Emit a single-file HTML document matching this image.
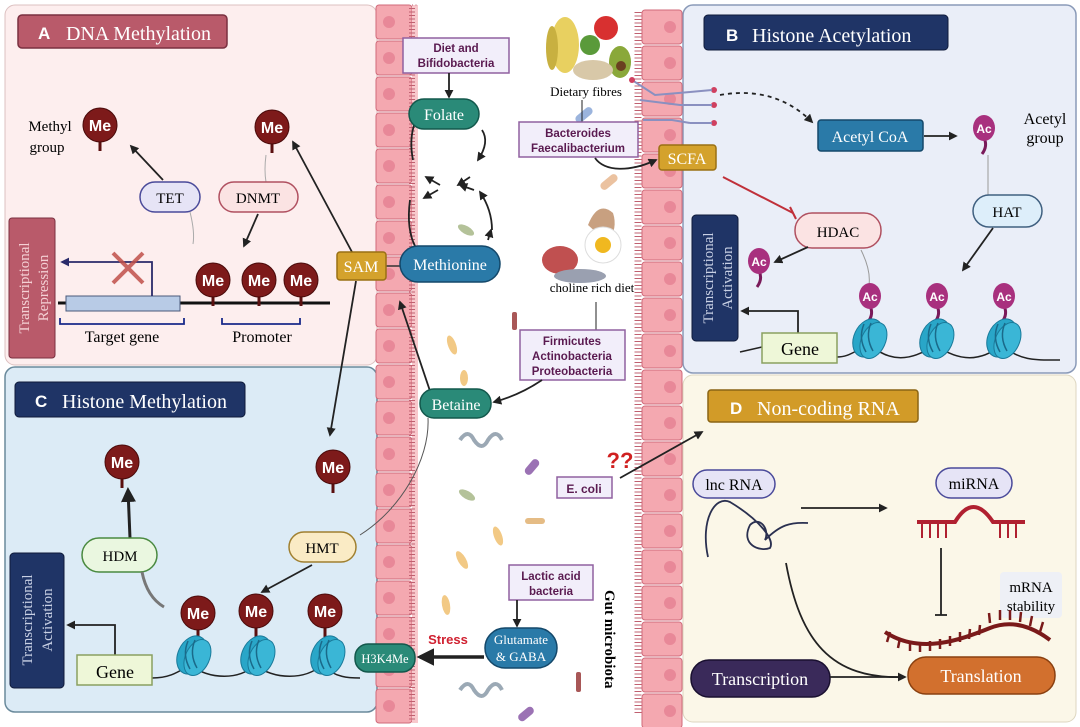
<!DOCTYPE html>
<html><head><meta charset="utf-8"><style>
html,body{margin:0;padding:0;background:#fff;}
svg{display:block;}
.se{font-family:"Liberation Serif",serif;}
.sa{font-family:"Liberation Sans",sans-serif;}
</style></head><body>
<svg width="1080" height="727" viewBox="0 0 1080 727" xmlns="http://www.w3.org/2000/svg">
<defs>
<marker id="ah" viewBox="0 0 10 10" refX="8" refY="5" markerWidth="5" markerHeight="5" orient="auto-start-reverse"><path d="M0,0 L10,5 L0,10 z" fill="#222"/></marker>
<marker id="ahn" viewBox="0 0 10 10" refX="8" refY="5" markerWidth="5" markerHeight="5" orient="auto"><path d="M0,0 L10,5 L0,10 z" fill="#2a2a6a"/></marker>
<g id="me"><line x1="0" y1="10" x2="0" y2="26" stroke="#5a0f0f" stroke-width="3"/><circle r="17" fill="#7d1a1a" stroke="#4a0a0a"/><text y="6" text-anchor="middle" class="sa" font-size="16" font-weight="bold" fill="#fff">Me</text></g>
<g id="ac"><path d="M0,10 q4,8 -2,16" stroke="#7a1a5a" stroke-width="3" fill="none"/><ellipse rx="11" ry="13" fill="#a8307e"/><text y="5" text-anchor="middle" class="sa" font-size="12" font-weight="bold" fill="#fff">Ac</text></g>
<g id="nuc"><ellipse rx="14" ry="20" transform="rotate(25)" fill="#29a6c8" stroke="#1a7a9a"/><ellipse cx="6" rx="12" ry="19" transform="rotate(25)" fill="#3ab6d6" stroke="#1a7a9a"/><path d="M-4,-14 q-6,14 2,28 M3,-15 q-6,14 2,28" stroke="#1a6a8a" fill="none" stroke-width="1.5"/></g>
<g id="cellL"><rect x="0" y="0" width="36" height="34" rx="3" fill="#f4a8b0" stroke="#d06a7a"/><circle cx="13" cy="17" r="6" fill="#e88898"/></g>
<g id="cellR"><rect x="0" y="0" width="40" height="34" rx="3" fill="#f4a8b0" stroke="#d06a7a"/><circle cx="28" cy="17" r="6" fill="#e88898"/></g>
</defs>

<!-- Panels -->
<rect x="5" y="5" width="372" height="360" rx="10" fill="#fdeeee" stroke="#dcc0c0"/>
<rect x="5" y="367" width="372" height="345" rx="10" fill="#dcebf6" stroke="#6a8a9c" stroke-width="1.5"/>
<rect x="683" y="5" width="393" height="368" rx="10" fill="#eaeef8" stroke="#8a9ab8" stroke-width="1.5"/>
<rect x="683" y="375" width="393" height="347" rx="10" fill="#fbf7e8" stroke="#ddd6c0"/>

<!-- epithelium left -->
<g>
<use href="#cellL" x="376" y="5"/><use href="#cellL" x="376" y="41"/><use href="#cellL" x="376" y="77"/><use href="#cellL" x="376" y="113"/><use href="#cellL" x="376" y="149"/><use href="#cellL" x="376" y="185"/><use href="#cellL" x="376" y="221"/><use href="#cellL" x="376" y="257"/><use href="#cellL" x="376" y="293"/><use href="#cellL" x="376" y="329"/><use href="#cellL" x="376" y="365"/><use href="#cellL" x="376" y="401"/><use href="#cellL" x="376" y="437"/><use href="#cellL" x="376" y="473"/><use href="#cellL" x="376" y="509"/><use href="#cellL" x="376" y="545"/><use href="#cellL" x="376" y="581"/><use href="#cellL" x="376" y="617"/><use href="#cellL" x="376" y="653"/><use href="#cellL" x="376" y="689"/>
<rect x="412" y="5" width="6" height="718" fill="#f8c8cc"/>
<line x1="412" y1="5" x2="418" y2="5" stroke="#c06070" stroke-dasharray="1 2.5"/>
<path d="M412,8 V720" stroke="#c06070" stroke-width="6" stroke-dasharray="1 2.5" fill="none"/>
</g>
<!-- epithelium right -->
<g>
<use href="#cellR" x="642" y="10"/><use href="#cellR" x="642" y="46"/><use href="#cellR" x="642" y="82"/><use href="#cellR" x="642" y="118"/><use href="#cellR" x="642" y="154"/><use href="#cellR" x="642" y="190"/><use href="#cellR" x="642" y="226"/><use href="#cellR" x="642" y="262"/><use href="#cellR" x="642" y="298"/><use href="#cellR" x="642" y="334"/><use href="#cellR" x="642" y="370"/><use href="#cellR" x="642" y="406"/><use href="#cellR" x="642" y="442"/><use href="#cellR" x="642" y="478"/><use href="#cellR" x="642" y="514"/><use href="#cellR" x="642" y="550"/><use href="#cellR" x="642" y="586"/><use href="#cellR" x="642" y="622"/><use href="#cellR" x="642" y="658"/><use href="#cellR" x="642" y="694" height="20"/>
<path d="M638,12 V714" stroke="#c06070" stroke-width="7" stroke-dasharray="1 2.5" fill="none"/>
</g>

<!-- ===== Panel A ===== -->
<rect x="18" y="15" width="209" height="33" rx="4" fill="#b95a6a" stroke="#7a3040" stroke-width="1.5"/>
<text x="38" y="39" class="sa" font-size="17" font-weight="bold" fill="#fff">A</text>
<text x="66" y="40" class="se" font-size="20" fill="#fff">DNA Methylation</text>
<text x="50" y="131" class="se" font-size="15" text-anchor="middle">Methyl</text>
<text x="47" y="152" class="se" font-size="15" text-anchor="middle">group</text>
<use href="#me" x="100" y="125"/>
<use href="#me" x="272" y="127"/>
<line x1="163" y1="180" x2="131" y2="146" stroke="#222" stroke-width="1.8" marker-end="url(#ah)"/>
<path d="M190,212 q5,20 3,32" stroke="#aaa" fill="none"/>
<path d="M266,155 q-2,15 0,27" stroke="#aaa" fill="none"/>
<rect x="140" y="182" width="60" height="30" rx="15" fill="#e6e4f6" stroke="#4a4a9a" stroke-width="1.5"/>
<text x="170" y="203" class="se" font-size="15" text-anchor="middle">TET</text>
<rect x="219" y="182" width="79" height="30" rx="15" fill="#fbe3e3" stroke="#b05060" stroke-width="1.5"/>
<text x="258" y="203" class="se" font-size="15" text-anchor="middle">DNMT</text>
<line x1="258" y1="214" x2="244" y2="246" stroke="#222" stroke-width="1.8" marker-end="url(#ah)"/>
<rect x="9" y="218" width="46" height="140" rx="3" fill="#b95a6a" stroke="#7a3040"/>
<text transform="translate(29,288) rotate(-90)" class="se" font-size="15" text-anchor="middle" fill="#f4d0d4">Transcriptional</text>
<text transform="translate(48,288) rotate(-90)" class="se" font-size="15" text-anchor="middle" fill="#f4d0d4">Repression</text>
<line x1="58" y1="303" x2="330" y2="303" stroke="#111" stroke-width="3"/>
<rect x="66" y="296" width="114" height="15" fill="#b8cbe6" stroke="#4a5a7a"/>
<path d="M152,296 V262 H62" stroke="#2a2a6a" stroke-width="1.8" fill="none" marker-end="url(#ahn)"/>
<path d="M113,253 L143,283 M143,253 L113,283" stroke="#c0504a" stroke-width="4" opacity="0.85"/>
<use href="#me" x="213" y="280"/><use href="#me" x="259" y="280"/><use href="#me" x="301" y="280"/>
<path d="M60,318 V324 H184 V318" stroke="#1a2a8a" stroke-width="1.8" fill="none"/>
<path d="M222,318 V324 H300 V318" stroke="#1a2a8a" stroke-width="1.8" fill="none"/>
<text x="122" y="342" class="se" font-size="16" text-anchor="middle">Target gene</text>
<text x="262" y="342" class="se" font-size="16" text-anchor="middle">Promoter</text>

<!-- SAM -->
<line x1="352" y1="252" x2="293" y2="142" stroke="#222" stroke-width="1.8" marker-end="url(#ah)"/>
<line x1="356" y1="281" x2="330" y2="435" stroke="#222" stroke-width="1.8" marker-end="url(#ah)"/>
<line x1="386" y1="266" x2="400" y2="266" stroke="#333" stroke-width="1.5"/>
<rect x="337" y="252" width="49" height="28" rx="3" fill="#d4a22c" stroke="#9a7014" stroke-width="1.5"/>
<text x="361" y="272" class="se" font-size="16" text-anchor="middle" fill="#fff">SAM</text>

<!-- ===== middle ===== -->
<rect x="403" y="38" width="106" height="35" fill="#f2eefa" stroke="#9060a0" stroke-width="1.5"/>
<text x="456" y="52" class="sa" font-size="11.5" font-weight="bold" text-anchor="middle" fill="#5a1a50">Diet  and</text>
<text x="456" y="67" class="sa" font-size="11.5" font-weight="bold" text-anchor="middle" fill="#5a1a50">Bifidobacteria</text>
<line x1="449" y1="73" x2="449" y2="97" stroke="#222" stroke-width="1.8" marker-end="url(#ah)"/>
<!-- cycle arrows -->
<g stroke="#222" stroke-width="1.8" fill="none">
<path d="M418,115 q-10,20 -5,45" marker-start="url(#ah)"/>
<path d="M482,130 q8,12 -4,30" marker-end="url(#ah)"/>
<path d="M410,200 q-4,30 6,48"/>
<path d="M492,230 q0,-20 -12,-38" marker-end="url(#ah)"/>
<path d="M440,185 l-14,-8" marker-end="url(#ah)"/>
<path d="M458,185 l12,-8" marker-start="url(#ah)"/>
<path d="M438,190 l-14,8" marker-end="url(#ah)"/>
<path d="M474,190 l-14,-5" marker-end="url(#ah)"/>
<path d="M488,240 l3,-10" marker-end="url(#ah)"/>
</g>
<rect x="409" y="99" width="70" height="30" rx="15" fill="#2a8a78" stroke="#13584c" stroke-width="1.5"/>
<text x="444" y="120" class="se" font-size="16" text-anchor="middle" fill="#fff">Folate</text>
<rect x="400" y="246" width="100" height="36" rx="18" fill="#2a7aa8" stroke="#14486a" stroke-width="1.5"/>
<text x="450" y="270" class="se" font-size="16" text-anchor="middle" fill="#fff">Methionine</text>
<line x1="430" y1="391" x2="400" y2="302" stroke="#222" stroke-width="1.8" marker-end="url(#ah)"/>
<rect x="420" y="389" width="71" height="29" rx="14" fill="#2a8a78" stroke="#13584c" stroke-width="1.5"/>
<text x="456" y="410" class="se" font-size="16" text-anchor="middle" fill="#fff">Betaine</text>
<path d="M428,418 C430,460 400,510 360,535" stroke="#555" fill="none"/>

<!-- bacteria decorations -->
<g opacity="0.85">
<ellipse cx="466" cy="230" rx="9" ry="4" transform="rotate(30 466 230)" fill="#a8b888"/>
<ellipse cx="452" cy="345" rx="4" ry="10" transform="rotate(-20 452 345)" fill="#f0c070"/>
<rect x="512" y="312" width="5" height="18" rx="2" fill="#9a3a3a"/>
<ellipse cx="464" cy="378" rx="4" ry="8" fill="#f0c070"/>
<path d="M460,440 q8,-12 14,0 q8,12 14,0 q8,-12 14,0" stroke="#8a9aa8" stroke-width="4" fill="none"/>
<rect x="528" y="458" width="8" height="18" rx="4" transform="rotate(40 532 467)" fill="#8a5aa8"/>
<ellipse cx="467" cy="495" rx="9" ry="4" transform="rotate(30 467 495)" fill="#a8b888"/>
<rect x="525" y="518" width="20" height="6" rx="3" fill="#e0b070"/>
<ellipse cx="462" cy="560" rx="4" ry="10" transform="rotate(-30 462 560)" fill="#f0c070"/>
<ellipse cx="446" cy="605" rx="4" ry="10" transform="rotate(-10 446 605)" fill="#f0c070"/>
<path d="M460,690 q8,-12 14,0 q8,12 14,0 q8,-12 14,0" stroke="#8a9aa8" stroke-width="4" fill="none"/>
<rect x="522" y="705" width="8" height="18" rx="4" transform="rotate(50 526 714)" fill="#8a5aa8"/>
<rect x="576" y="672" width="5" height="20" rx="2" fill="#9a3a3a"/>
<rect x="605" y="172" width="8" height="20" rx="4" transform="rotate(50 609 182)" fill="#e8b890"/>
<rect x="580" y="105" width="8" height="20" rx="4" transform="rotate(50 584 115)" fill="#8aa8d8"/>
<ellipse cx="498" cy="536" rx="4" ry="10" transform="rotate(-20 498 536)" fill="#f0c070"/>
</g>

<!-- dietary fibres food -->
<ellipse cx="565" cy="45" rx="14" ry="28" fill="#e8d060"/>
<ellipse cx="552" cy="48" rx="6" ry="22" fill="#c8b040"/>
<circle cx="606" cy="28" r="12" fill="#d83030"/>
<circle cx="590" cy="45" r="10" fill="#5a9a3a"/>
<ellipse cx="620" cy="62" rx="11" ry="16" fill="#8aa83a"/>
<circle cx="621" cy="66" r="5" fill="#6a4020"/>
<ellipse cx="593" cy="70" rx="20" ry="10" fill="#d8c8a8"/>
<text x="586" y="96" class="se" font-size="13" text-anchor="middle">Dietary fibres</text>
<line x1="582" y1="100" x2="582" y2="122" stroke="#222"/>
<g stroke="#8a90c0" stroke-width="2" fill="none">
<path d="M632,80 L655,95 L690,92"/><path d="M640,100 L680,105 L690,105"/><path d="M643,120 L672,120 L690,123"/>
</g>
<circle cx="632" cy="80" r="3" fill="#d04060"/><circle cx="714" cy="90" r="3" fill="#d04060"/><circle cx="714" cy="105" r="3" fill="#d04060"/><circle cx="714" cy="123" r="3" fill="#d04060"/>
<g stroke="#8a90c0" stroke-width="2"><line x1="690" y1="92" x2="712" y2="90"/><line x1="690" y1="105" x2="712" y2="105"/><line x1="690" y1="123" x2="712" y2="123"/></g>
<path d="M720,95 C760,88 790,100 812,122" stroke="#222" stroke-width="1.8" stroke-dasharray="4 4" fill="none" marker-end="url(#ah)"/>

<rect x="519" y="122" width="119" height="35" fill="#f2eefa" stroke="#9060a0" stroke-width="1.5"/>
<text x="578" y="137" class="sa" font-size="11.5" font-weight="bold" text-anchor="middle" fill="#5a1a50">Bacteroides</text>
<text x="578" y="152" class="sa" font-size="11.5" font-weight="bold" text-anchor="middle" fill="#5a1a50">Faecalibacterium</text>
<path d="M595,158 C605,172 630,172 656,160" stroke="#222" stroke-width="1.8" fill="none" marker-end="url(#ah)"/>
<rect x="659" y="145" width="57" height="25" rx="3" fill="#d4a22c" stroke="#9a7014" stroke-width="1.5"/>
<text x="687" y="164" class="se" font-size="16" text-anchor="middle" fill="#fff">SCFA</text>

<!-- choline diet food -->
<path d="M588,225 q10,-25 25,-12 q5,15 -5,30 z" fill="#c8a080"/>
<ellipse cx="560" cy="260" rx="18" ry="14" fill="#c05050"/>
<circle cx="603" cy="245" r="18" fill="#fff" stroke="#ddd"/>
<circle cx="603" cy="245" r="8" fill="#f0b820"/>
<ellipse cx="580" cy="276" rx="26" ry="7" fill="#9aa0b0"/>
<text x="592" y="292" class="se" font-size="13" text-anchor="middle">choline rich diet</text>
<line x1="596" y1="302" x2="596" y2="330" stroke="#222"/>
<rect x="520" y="330" width="105" height="50" fill="#f2eefa" stroke="#9060a0" stroke-width="1.5"/>
<text x="572" y="345" class="sa" font-size="11.5" font-weight="bold" text-anchor="middle" fill="#5a1a50">Firmicutes</text>
<text x="572" y="360" class="sa" font-size="11.5" font-weight="bold" text-anchor="middle" fill="#5a1a50">Actinobacteria</text>
<text x="572" y="375" class="sa" font-size="11.5" font-weight="bold" text-anchor="middle" fill="#5a1a50">Proteobacteria</text>
<path d="M542,380 Q520,395 494,402" stroke="#222" stroke-width="1.8" fill="none" marker-end="url(#ah)"/>

<rect x="557" y="477" width="55" height="21" fill="#f2eefa" stroke="#9060a0" stroke-width="1.5"/>
<text x="584" y="493" class="sa" font-size="12" font-weight="bold" text-anchor="middle" fill="#5a1a50">E. coli</text>
<text x="620" y="468" class="sa" font-size="22" font-weight="bold" text-anchor="middle" fill="#d02020">??</text>
<line x1="620" y1="478" x2="702" y2="432" stroke="#222" stroke-width="1.8" marker-end="url(#ah)"/>

<rect x="509" y="565" width="84" height="35" fill="#f2eefa" stroke="#9060a0" stroke-width="1.5"/>
<text x="551" y="580" class="sa" font-size="11.5" font-weight="bold" text-anchor="middle" fill="#5a1a50">Lactic acid</text>
<text x="551" y="595" class="sa" font-size="11.5" font-weight="bold" text-anchor="middle" fill="#5a1a50">bacteria</text>
<line x1="517" y1="600" x2="517" y2="626" stroke="#222" stroke-width="1.8" marker-end="url(#ah)"/>
<rect x="485" y="628" width="72" height="40" rx="20" fill="#2a7aa8" stroke="#14486a" stroke-width="1.5"/>
<text x="521" y="644" class="se" font-size="13" text-anchor="middle" fill="#fff">Glutamate</text>
<text x="521" y="661" class="se" font-size="13" text-anchor="middle" fill="#fff">&amp; GABA</text>
<line x1="484" y1="657" x2="420" y2="657" stroke="#222" stroke-width="3.5" marker-end="url(#ah)"/>
<text x="448" y="644" class="sa" font-size="13" font-weight="bold" text-anchor="middle" fill="#d02030">Stress</text>
<rect x="355" y="644" width="60" height="28" rx="13" fill="#2a8a78" stroke="#13584c" stroke-width="1.5"/>
<text x="385" y="663" class="se" font-size="12.5" text-anchor="middle" fill="#fff">H3K4Me</text>
<text transform="translate(605,590) rotate(90)" class="se" font-size="15" font-weight="bold">Gut microbiota</text>

<!-- ===== Panel B ===== -->
<rect x="704" y="15" width="244" height="35" rx="4" fill="#1f3466" stroke="#0f1a3a"/>
<text x="726" y="41" class="sa" font-size="17" font-weight="bold" fill="#fff">B</text>
<text x="752" y="42" class="se" font-size="20" fill="#fff">Histone  Acetylation</text>
<rect x="818" y="120" width="105" height="31" rx="3" fill="#2a7aa8" stroke="#14486a" stroke-width="1.5"/>
<text x="870" y="142" class="se" font-size="16" text-anchor="middle" fill="#fff">Acetyl CoA</text>
<line x1="924" y1="136" x2="956" y2="136" stroke="#222" stroke-width="1.8" marker-end="url(#ah)"/>
<use href="#ac" x="984" y="128"/>
<text x="1045" y="124" class="se" font-size="16" text-anchor="middle">Acetyl</text>
<text x="1045" y="143" class="se" font-size="16" text-anchor="middle">group</text>
<line x1="988" y1="155" x2="988" y2="195" stroke="#999"/>
<rect x="973" y="195" width="69" height="32" rx="16" fill="#ddeefa" stroke="#406080" stroke-width="1.5"/>
<text x="1007" y="217" class="se" font-size="15" text-anchor="middle">HAT</text>
<line x1="993" y1="228" x2="963" y2="270" stroke="#222" stroke-width="1.8" marker-end="url(#ah)"/>
<line x1="723" y1="177" x2="793" y2="213" stroke="#c0303a" stroke-width="2"/>
<line x1="790" y1="207" x2="796" y2="219" stroke="#c0303a" stroke-width="2"/>
<rect x="795" y="213" width="86" height="35" rx="17" fill="#fbe3e3" stroke="#b05060" stroke-width="1.5"/>
<text x="838" y="237" class="se" font-size="15" text-anchor="middle">HDAC</text>
<line x1="808" y1="247" x2="775" y2="262" stroke="#222" stroke-width="1.8" marker-end="url(#ah)"/>
<use href="#ac" x="759" y="261"/>
<path d="M861,250 q10,20 8,35" stroke="#999" fill="none"/>
<rect x="692" y="215" width="46" height="126" rx="4" fill="#1f3466" stroke="#0f1a3a"/>
<text transform="translate(713,278) rotate(-90)" class="se" font-size="15" text-anchor="middle" fill="#c8d0e4">Transcriptional</text>
<text transform="translate(732,278) rotate(-90)" class="se" font-size="15" text-anchor="middle" fill="#c8d0e4">Activation</text>
<path d="M798,333 V311 H742" stroke="#222" stroke-width="1.8" fill="none" marker-end="url(#ah)"/>
<path d="M740,352 L762,347 M837,357 C850,357 855,350 870,345 C890,362 910,362 935,345 C960,362 980,362 1002,345 C1020,362 1040,360 1060,360" stroke="#222" stroke-width="1.5" fill="none"/>
<rect x="762" y="333" width="75" height="30" fill="#eef7d8" stroke="#8aa060" stroke-width="1.5"/>
<text x="800" y="355" class="se" font-size="18" text-anchor="middle">Gene</text>
<use href="#ac" x="870" y="296"/><use href="#ac" x="937" y="296"/><use href="#ac" x="1004" y="296"/>
<use href="#nuc" x="868" y="338"/><use href="#nuc" x="935" y="338"/><use href="#nuc" x="1002" y="338"/>

<!-- ===== Panel C ===== -->
<rect x="15" y="382" width="230" height="35" rx="4" fill="#1f3466" stroke="#0f1a3a"/>
<text x="35" y="407" class="sa" font-size="17" font-weight="bold" fill="#fff">C</text>
<text x="62" y="408" class="se" font-size="20" fill="#fff">Histone Methylation</text>
<use href="#me" x="122" y="462"/>
<use href="#me" x="333" y="467"/>
<line x1="130" y1="538" x2="128" y2="490" stroke="#222" stroke-width="3" marker-end="url(#ah)"/>
<rect x="82" y="538" width="75" height="34" rx="17" fill="#eaf7e0" stroke="#4a8a40" stroke-width="1.5"/>
<text x="120" y="561" class="se" font-size="15" text-anchor="middle">HDM</text>
<path d="M142,572 q5,25 22,35" stroke="#777" stroke-width="3" fill="none"/>
<rect x="289" y="532" width="67" height="30" rx="15" fill="#faebc5" stroke="#a08030" stroke-width="1.5"/>
<text x="322" y="553" class="se" font-size="15" text-anchor="middle">HMT</text>
<line x1="312" y1="565" x2="262" y2="592" stroke="#222" stroke-width="1.8" marker-end="url(#ah)"/>
<rect x="10" y="553" width="54" height="135" rx="4" fill="#1f3466" stroke="#0f1a3a"/>
<text transform="translate(32,620) rotate(-90)" class="se" font-size="15" text-anchor="middle" fill="#c8d0e4">Transcriptional</text>
<text transform="translate(52,620) rotate(-90)" class="se" font-size="15" text-anchor="middle" fill="#c8d0e4">Activation</text>
<path d="M115,655 V625 H68" stroke="#222" stroke-width="1.8" fill="none" marker-end="url(#ah)"/>
<path d="M152,678 C170,678 178,672 190,665 C210,680 240,680 255,665 C275,680 305,680 322,665 C335,678 350,678 360,678" stroke="#222" stroke-width="1.5" fill="none"/>
<rect x="77" y="655" width="75" height="30" fill="#eef7d8" stroke="#8aa060" stroke-width="1.5"/>
<text x="115" y="678" class="se" font-size="18" text-anchor="middle">Gene</text>
<use href="#me" x="198" y="613"/><use href="#me" x="256" y="611"/><use href="#me" x="325" y="611"/>
<use href="#nuc" x="192" y="655"/><use href="#nuc" x="256" y="655"/><use href="#nuc" x="326" y="655"/>

<!-- ===== Panel D ===== -->
<rect x="708" y="390" width="210" height="32" rx="3" fill="#d29b28" stroke="#8a6414" stroke-width="1.5"/>
<text x="730" y="414" class="sa" font-size="17" font-weight="bold" fill="#fff">D</text>
<text x="757" y="415" class="se" font-size="20" fill="#fff">Non-coding RNA</text>
<rect x="693" y="470" width="82" height="28" rx="14" fill="#e6e4f6" stroke="#4a4a9a" stroke-width="1.5"/>
<text x="734" y="490" class="se" font-size="16" text-anchor="middle">lnc RNA</text>
<path d="M708,557 C700,520 715,495 730,502 C760,520 775,540 770,548 C760,552 740,545 750,525 C760,515 770,530 765,540 C780,525 790,522 808,523" stroke="#2a3050" stroke-width="1.8" fill="none"/>
<line x1="801" y1="508" x2="886" y2="508" stroke="#222" stroke-width="1.8" marker-end="url(#ah)"/>
<rect x="936" y="468" width="76" height="30" rx="15" fill="#e6e4f6" stroke="#4a4a9a" stroke-width="1.5"/>
<text x="974" y="489" class="se" font-size="16" text-anchor="middle">miRNA</text>
<path d="M917,522 H955 q18,-30 38,0 H1025" stroke="#b02030" stroke-width="4" fill="none"/>
<g stroke="#b02030" stroke-width="2"><line x1="922" y1="522" x2="922" y2="538"/><line x1="930" y1="522" x2="930" y2="538"/><line x1="938" y1="522" x2="938" y2="538"/><line x1="946" y1="522" x2="946" y2="538"/><line x1="1000" y1="522" x2="1000" y2="538"/><line x1="1008" y1="522" x2="1008" y2="538"/><line x1="1016" y1="522" x2="1016" y2="538"/></g>
<line x1="941" y1="548" x2="941" y2="615" stroke="#222" stroke-width="1.8"/>
<line x1="935" y1="615" x2="947" y2="615" stroke="#222" stroke-width="1.8"/>
<rect x="1000" y="572" width="62" height="46" rx="4" fill="#eef0f6"/>
<text x="1031" y="592" class="se" font-size="15" text-anchor="middle">mRNA</text>
<text x="1031" y="611" class="se" font-size="15" text-anchor="middle">stability</text>
<path d="M885,632 C920,655 960,640 990,628 C1010,620 1030,625 1050,640" stroke="#7a1a1a" stroke-width="4" fill="none"/>
<path d="M890,632 l-3,10 M900,638 l-2,10 M910,641 v10 M920,642 v10 M930,641 v10 M940,639 v10 M950,636 v10 M960,632 v10 M970,629 l-1,10 M980,625 l-1,10 M990,623 l-1,-10 M1000,620 v-10 M1010,620 v-10 M1020,622 l1,-10 M1030,626 l2,-10 M1040,632 l3,-10" stroke="#7a1a1a" stroke-width="2.5"/>
<path d="M786,563 C800,640 830,680 905,677" stroke="#222" stroke-width="1.8" fill="none"/>
<rect x="691" y="660" width="139" height="37" rx="18" fill="#3a2a5a" stroke="#1a1030" stroke-width="1.5"/>
<text x="760" y="685" class="se" font-size="18" text-anchor="middle" fill="#fff">Transcription</text>
<line x1="830" y1="677" x2="905" y2="677" stroke="#222" stroke-width="1.8" marker-end="url(#ah)"/>
<rect x="908" y="657" width="147" height="37" rx="18" fill="#d2702e" stroke="#8a4010" stroke-width="1.5"/>
<text x="981" y="682" class="se" font-size="18" text-anchor="middle" fill="#fff">Translation</text>
</svg>
</body></html>
